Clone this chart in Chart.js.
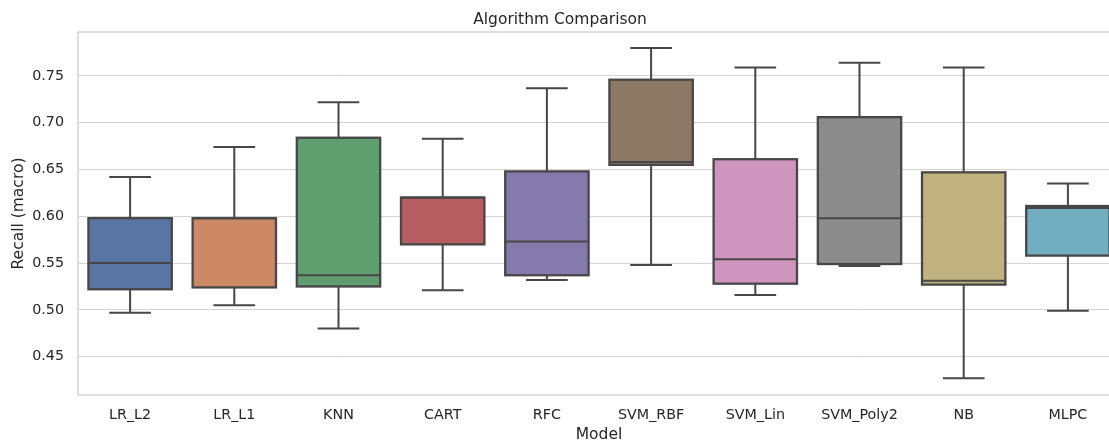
<!DOCTYPE html>
<html>
<head>
<meta charset="utf-8">
<script src="https://cdn.jsdelivr.net/npm/chart.js@4"></script>
<style>
  html, body { margin: 0; padding: 0; background: #ffffff; overflow: hidden; }
  #wrap { width: 1120px; height: 443px; }
</style>
</head>
<body>
<div id="wrap"><canvas id="myChart" width="1120" height="443"></canvas></div>
<script>
// box plot data
const models = ["LR_L2", "LR_L1", "KNN", "CART", "RFC", "SVM_RBF", "SVM_Lin", "SVM_Poly2", "NB", "MLPC"];
const whiskerLow = [0.497, 0.505, 0.480, 0.521, 0.532, 0.548, 0.516, 0.547, 0.427, 0.499];
const q1 = [0.522, 0.524, 0.525, 0.570, 0.537, 0.655, 0.528, 0.549, 0.527, 0.558];
const medians = [0.550, 0.598, 0.537, 0.620, 0.573, 0.658, 0.554, 0.598, 0.531, 0.609];
const q3 = [0.598, 0.598, 0.684, 0.620, 0.648, 0.746, 0.661, 0.706, 0.647, 0.611];
const whiskerHigh = [0.642, 0.674, 0.722, 0.683, 0.737, 0.780, 0.759, 0.764, 0.759, 0.635];
const yTicks = [0.45, 0.50, 0.55, 0.60, 0.65, 0.70, 0.75];

const boxColors = ["#5975a4", "#cc8963", "#5f9e6e", "#b55d60", "#857aab",
                   "#8d7866", "#d095bf", "#8c8c8c", "#c1b37f", "#71aec0"];
const lineColor = "#474747";
const textColor = "#262626";
const font = "'DejaVu Sans', sans-serif";

// box outlines, whiskers, caps and median lines
const boxExtras = {
  id: "boxExtras",
  afterDatasetsDraw(chart) {
    const ctx = chart.ctx;
    const y = chart.scales.y;
    const bars = chart.getDatasetMeta(0).data;
    ctx.save();
    ctx.strokeStyle = lineColor;
    bars.forEach((bar, i) => {
      const cx = bar.x;
      const half = bar.width / 2;
      const cap = bar.width / 4;
      const yLo = y.getPixelForValue(whiskerLow[i]);
      const yQ1 = y.getPixelForValue(q1[i]);
      const yMed = y.getPixelForValue(medians[i]);
      const yQ3 = y.getPixelForValue(q3[i]);
      const yHi = y.getPixelForValue(whiskerHigh[i]);
      ctx.lineWidth = 2;
      ctx.beginPath();
      ctx.moveTo(cx, yQ3); ctx.lineTo(cx, yHi);
      ctx.moveTo(cx - cap, yHi); ctx.lineTo(cx + cap, yHi);
      ctx.moveTo(cx, yQ1); ctx.lineTo(cx, yLo);
      ctx.moveTo(cx - cap, yLo); ctx.lineTo(cx + cap, yLo);
      ctx.moveTo(cx - half, yMed); ctx.lineTo(cx + half, yMed);
      ctx.stroke();
      ctx.lineWidth = 2.3;
      ctx.strokeRect(cx - half, yQ3, bar.width, yQ1 - yQ3);
    });
    ctx.restore();
  }
};

// light grey frame round the plot (seaborn whitegrid spines)
const frame = {
  id: "frame",
  afterDraw(chart) {
    const { ctx, chartArea: a } = chart;
    ctx.save();
    ctx.strokeStyle = "#cccccc";
    ctx.lineWidth = 1.25;
    ctx.strokeRect(a.left, a.top, a.right - a.left, a.bottom - a.top);
    ctx.restore();
  }
};

const ctx = document.querySelector("#myChart");

const myChart = new Chart(ctx, {
  type: "bar",
  data: {
    labels: models,
    datasets: [
      {
        data: models.map((m, i) => [q1[i], q3[i]]),
        backgroundColor: boxColors,
        borderWidth: 0,
        barPercentage: 0.8,
        categoryPercentage: 1.0,
      },
    ],
  },
  options: {
    responsive: false,
    animation: false,
    layout: { padding: 0 },
    plugins: {
      legend: false,
      tooltip: { enabled: false },
      title: {
        display: true,
        text: "Algorithm Comparison",
        color: textColor,
        font: { family: font, size: 15.5, weight: "normal" },
        padding: { top: 10.3, bottom: 3.1 },
      },
    },
    scales: {
      x: {
        offset: true,
        grid: { display: false, drawTicks: false },
        border: { display: false },
        ticks: { color: textColor, font: { family: font, size: 14.3 }, padding: 11.7, maxRotation: 0, autoSkip: false },
        title: {
          display: true,
          text: "Model",
          color: textColor,
          font: { family: font, size: 15.5, lineHeight: 1.0 },
          padding: { top: 0, bottom: 0 },
        },
        afterFit(scale) { scale.height = 48; },
      },
      y: {
        min: 0.409,
        max: 0.797,
        grid: { color: "#d4d4d4", lineWidth: 1, drawTicks: false },
        border: { display: false },
        ticks: {
          color: textColor,
          font: { family: font, size: 14.3 },
          padding: 14,
          callback: (v) => v.toFixed(2),
        },
        afterBuildTicks(scale) {
          scale.ticks = yTicks.map((v) => ({ value: v }));
        },
        title: {
          display: true,
          text: "Recall (macro)",
          color: textColor,
          font: { family: font, size: 15.5 },
          padding: { top: 9.5, bottom: 0 },
        },
        afterFit(scale) { scale.width = 78; },
      },
    },
  },
  plugins: [boxExtras, frame],
});
</script>
</body>
</html>
